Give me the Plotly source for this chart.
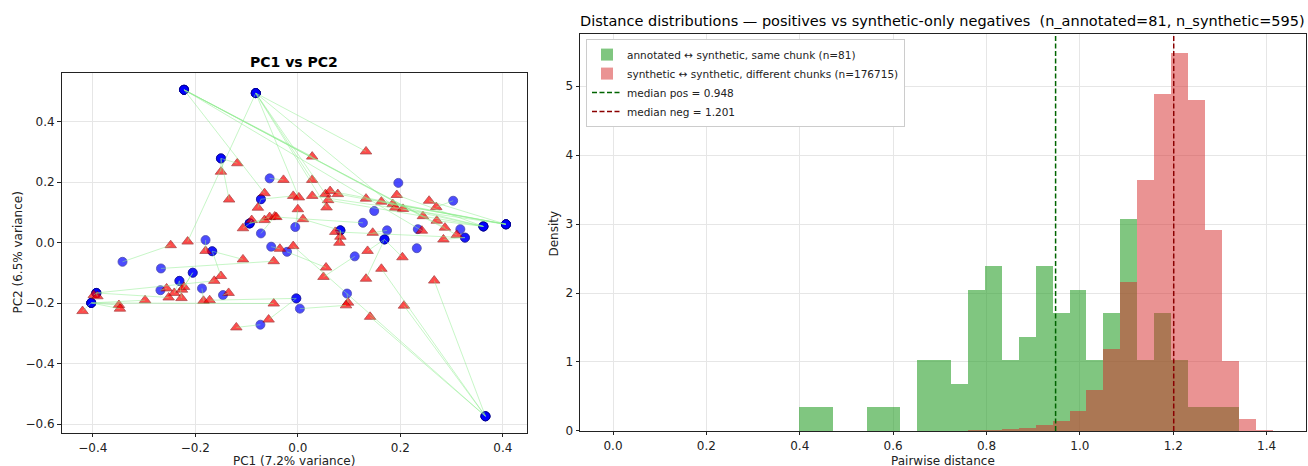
import plotly.graph_objects as go

W, H = 1308, 466
FIG_H = 474
def px(x): return x / W
def py(y): return 1 - y / H

FONT = "DejaVu Sans"

# ---------------- PCA panel data ----------------
ann_x = [-0.222, -0.082, -0.150, -0.055, 0.196, 0.303, -0.072, 0.149, 0.406, 0.362,
         0.317, 0.326, 0.234, 0.174, 0.127, 0.083, -0.005, -0.094, -0.072, 0.169,
         0.232, 0.111, -0.021, -0.052, -0.180, -0.167, -0.205, -0.267, -0.342, -0.231,
         -0.268, -0.187, -0.146, -0.393, -0.403, -0.003, 0.004, -0.073, 0.096, 0.366]
ann_y = [0.506, 0.495, 0.279, 0.213, 0.198, 0.139, 0.144, 0.105, 0.061, 0.054,
         0.045, 0.017, 0.045, 0.041, 0.066, 0.041, 0.052, 0.064, 0.031, 0.011,
         -0.018, -0.045, -0.030, -0.013, 0.009, -0.028, -0.099, -0.085, -0.063, -0.126,
         -0.157, -0.151, -0.173, -0.166, -0.199, -0.184, -0.218, -0.271, -0.168, -0.574]

syn_x = [0.133, 0.028, -0.118, -0.150, -0.134, -0.028, 0.028, -0.065, -0.078, -0.009,
         0.002, 0.028, 0.054, 0.063, 0.078, 0.059, 0.056, 0.000, 0.010, 0.133,
         0.163, 0.185, 0.193, 0.190, 0.205, 0.256, 0.270, 0.244, 0.271, 0.287,
         0.242, 0.284, 0.310, 0.146, 0.073, 0.083, 0.081, -0.090, -0.107, -0.065,
         -0.055, -0.045, -0.042, -0.215, -0.248, -0.180, -0.107, -0.047, -0.035, -0.009,
         0.136, 0.204, 0.055, 0.050, 0.163, 0.133, 0.266, -0.150, -0.163, -0.135,
         -0.256, -0.241, -0.252, -0.226, -0.222, -0.227, -0.184, -0.172, -0.298, -0.349,
         -0.347, -0.420, -0.398, -0.391, -0.047, 0.098, 0.094, 0.207, 0.141, -0.057,
         -0.120]
syn_y = [0.302, 0.285, 0.263, 0.235, 0.143, 0.208, 0.208, 0.164, 0.116, 0.155,
         0.150, 0.155, 0.161, 0.171, 0.161, 0.141, 0.117, 0.111, 0.078, 0.146,
         0.136, 0.128, 0.158, 0.116, 0.112, 0.139, 0.118, 0.088, 0.073, 0.050,
         0.040, 0.011, 0.026, 0.033, 0.036, 0.020, 0.000, 0.075, 0.048, 0.075,
         0.085, 0.087, 0.085, 0.004, -0.008, -0.027, -0.055, -0.061, -0.020, -0.011,
         -0.027, -0.048, -0.082, -0.113, -0.086, -0.119, -0.125, -0.110, -0.126, -0.166,
         -0.151, -0.166, -0.181, -0.155, -0.146, -0.183, -0.192, -0.190, -0.190, -0.206,
         -0.218, -0.226, -0.173, -0.177, -0.201, -0.198, -0.207, -0.208, -0.245, -0.254,
         -0.280]
syn_parent = [1, 0, 2, 2, 2, 3, 1, 0, 6, 6,
              1, 8, 1, 8, 8, 9, 1, 16, 15, 8,
              9, 8, 9, 1, 9, 8, 5, 0, 9, 0,
              0, 11, 0, 13, 11, 15, 15, 17, 17, 17,
              17, 18, 14, 1, 28, 24, 25, 27, 23, 39,
              19, 19, 22, 21, 39, 19, 39, 25, 33, 32,
              30, 29, 33, 26, 26, 29, 31, 35, 34, 34,
              34, 34, 33, 33, 34, 38, 36, 39, 39, 35,
              37]

# ---------------- histogram data ----------------
bin_width = 0.03622
pos_first_bin = 11
pos_counts = [1, 1, 0, 0, 1, 1, 0, 3, 3, 2, 6, 7, 3, 4, 7, 5, 6, 3, 5, 9, 3, 5, 3, 1, 1, 1]
neg_first_bin = 20
neg_density = [0.005, 0.010, 0.015, 0.030, 0.044, 0.087, 0.150, 0.290, 0.596, 1.187,
               2.156, 3.634, 4.890, 5.480, 4.797, 2.907, 1.017, 0.170, 0.010]
n_pos = 81
n_neg = 176715
median_pos = 0.948
median_neg = 1.201

fig = go.Figure()

# ---- left panel: annotated points repeated once per pair (stacking alpha) ----
child_count = [0] * len(ann_x)
for p in syn_parent:
    child_count[p] += 1
ax_pts, ay_pts = [], []
for i in range(len(ann_x)):
    for _ in range(max(1, child_count[i])):
        ax_pts.append(ann_x[i]); ay_pts.append(ann_y[i])

fig.add_trace(go.Scatter(x=ax_pts, y=ay_pts, mode="markers", xaxis="x", yaxis="y",
                         marker=dict(symbol="circle", size=9, color="blue", opacity=0.7,
                                     line=dict(color="darkblue", width=0.8)),
                         showlegend=False, hoverinfo="skip"))
fig.add_trace(go.Scatter(x=syn_x, y=syn_y, mode="markers", xaxis="x", yaxis="y",
                         marker=dict(symbol="triangle-up", size=10, color="red", opacity=0.7,
                                     line=dict(color="darkred", width=0.8)),
                         showlegend=False, hoverinfo="skip"))
for i in range(len(syn_x)):
    p = syn_parent[i]
    fig.add_trace(go.Scatter(x=[ann_x[p], syn_x[i]], y=[ann_y[p], syn_y[i]], mode="lines",
                             xaxis="x", yaxis="y",
                             line=dict(color="rgba(144,238,144,0.5)", width=1),
                             showlegend=False, hoverinfo="skip"))

# ---- right panel: histograms ----
pos_centers = [(pos_first_bin + k + 0.5) * bin_width for k in range(len(pos_counts))]
pos_density = [c / (n_pos * bin_width) for c in pos_counts]
neg_centers = [(neg_first_bin + k + 0.5) * bin_width for k in range(len(neg_density))]

fig.add_trace(go.Bar(x=pos_centers, y=pos_density, width=bin_width, xaxis="x2", yaxis="y2",
                     marker=dict(color="rgba(44,160,44,0.6)", line=dict(width=0)),
                     name=f"annotated \u2194 synthetic, same chunk (n={n_pos})"))
fig.add_trace(go.Bar(x=neg_centers, y=neg_density, width=bin_width, xaxis="x2", yaxis="y2",
                     marker=dict(color="rgba(214,39,40,0.5)", line=dict(width=0)),
                     name=f"synthetic \u2194 synthetic, different chunks (n={n_neg})"))
ytop = 5.756
fig.add_trace(go.Scatter(x=[median_pos, median_pos], y=[0, ytop], mode="lines", xaxis="x2", yaxis="y2",
                         line=dict(color="darkgreen", width=1.5, dash="5px,2.5px"),
                         name=f"median pos = {median_pos:.3f}"))
fig.add_trace(go.Scatter(x=[median_neg, median_neg], y=[0, ytop], mode="lines", xaxis="x2", yaxis="y2",
                         line=dict(color="darkred", width=1.5, dash="5px,2.5px"),
                         name=f"median neg = {median_neg:.3f}"))

axis_common = dict(showline=True, mirror=True, linecolor="#222222", linewidth=1,
                   ticks="outside", ticklen=3.5, tickwidth=0.8, tickcolor="#222222",
                   showgrid=True, gridcolor="#e6e6e6", gridwidth=0.8, zeroline=False,
                   tickfont=dict(family=FONT, size=12, color="#222222"))

L = (61.5, 527.0, 72.7, 432.0)   # left, right, top, bottom in px
R = (580.0, 1305.7, 34.0, 430.0)

fig.update_layout(
    width=W, height=FIG_H, autosize=False, margin=dict(l=0, r=0, t=0, b=0, pad=0),
    paper_bgcolor="white", plot_bgcolor="white",
    barmode="overlay", bargap=0,
    font=dict(family=FONT, size=12, color="#222222"),
    xaxis=dict(domain=[px(L[0]), px(L[1])], anchor="y", range=[-0.461, 0.447],
               tickvals=[-0.4, -0.2, 0.0, 0.2, 0.4], tickformat=".1f", **axis_common),
    yaxis=dict(domain=[py(L[3]), py(L[2])], anchor="x", range=[-0.629, 0.562],
               tickvals=[-0.6, -0.4, -0.2, 0.0, 0.2, 0.4], tickformat=".1f", **axis_common),
    xaxis2=dict(domain=[px(R[0]), px(R[1])], anchor="y2", range=[-0.0707, 1.4837],
                tickvals=[0.0, 0.2, 0.4, 0.6, 0.8, 1.0, 1.2, 1.4], tickformat=".1f", **axis_common),
    yaxis2=dict(domain=[py(R[3]), py(R[2])], anchor="x2", range=[0, ytop],
                tickvals=[0, 1, 2, 3, 4, 5], **axis_common),
    legend=dict(x=px(586), y=py(39), xanchor="left", yanchor="top",
                bgcolor="white", bordercolor="#cccccc", borderwidth=1,
                font=dict(family=FONT, size=10.5, color="#222222"),
                tracegroupgap=0, itemwidth=30),
    annotations=[
        dict(text="<b>PC1 vs PC2</b>", x=px((L[0] + L[1]) / 2), y=py(62), xref="paper", yref="paper",
             showarrow=False, xanchor="center", yanchor="middle", font=dict(family=FONT, size=14, color="black")),
        dict(text="PC1 (7.2% variance)", x=px((L[0] + L[1]) / 2), y=py(460), xref="paper", yref="paper",
             showarrow=False, xanchor="center", yanchor="middle", font=dict(family=FONT, size=12, color="#222222")),
        dict(text="PC2 (6.5% variance)", x=px(18), y=py(252), xref="paper", yref="paper", textangle=-90,
             showarrow=False, xanchor="center", yanchor="middle", font=dict(family=FONT, size=12, color="#222222")),
        dict(text="Distance distributions \u2014 positives vs synthetic-only negatives  (n_annotated=81, n_synthetic=595)",
             x=px((R[0] + R[1]) / 2), y=py(21), xref="paper", yref="paper",
             showarrow=False, xanchor="center", yanchor="middle", font=dict(family=FONT, size=14.5, color="black")),
        dict(text="Pairwise distance", x=px((R[0] + R[1]) / 2), y=py(460), xref="paper", yref="paper",
             showarrow=False, xanchor="center", yanchor="middle", font=dict(family=FONT, size=12, color="#222222")),
        dict(text="Density", x=px(553), y=py(233), xref="paper", yref="paper", textangle=-90,
             showarrow=False, xanchor="center", yanchor="middle", font=dict(family=FONT, size=12, color="#222222")),
    ],
)

post = ("document.documentElement.style.margin='0';"
        "document.body.style.margin='0';document.body.style.padding='0';"
        "document.documentElement.style.overflow='hidden';document.body.style.overflow='hidden';")

fig.write_html("out.html", config={"displayModeBar": False, "responsive": False}, post_script=post)
